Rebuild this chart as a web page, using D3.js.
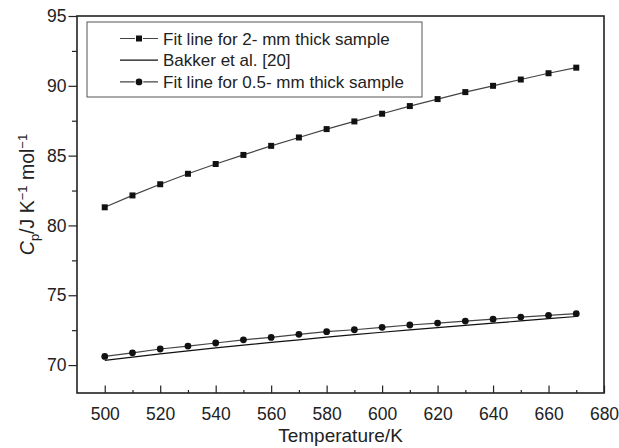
<!DOCTYPE html>
<html>
<head>
<meta charset="utf-8">
<script src="https://cdn.jsdelivr.net/npm/d3@7"></script>
<style>
    body { margin: 0; background: #fff; }
    svg { display: block; font-family: "Liberation Sans", Arial, sans-serif; }
</style>
</head>
<body>
<svg></svg>
<script>
// Data
let temps = [500, 510, 520, 530, 540, 550, 560, 570, 580, 590, 600, 610, 620, 630, 640, 650, 660, 670]
let fit2mm = [81.3, 82.15, 82.95, 83.7, 84.4, 85.05, 85.7, 86.3, 86.9, 87.45, 88.0, 88.55, 89.05, 89.55, 90.0, 90.45, 90.9, 91.3]
let bakker = [70.34, 70.57, 70.8, 71.02, 71.23, 71.43, 71.62, 71.81, 72.0, 72.18, 72.35, 72.52, 72.68, 72.84, 73.0, 73.16, 73.32, 73.48]
let fit05mm = [70.62, 70.88, 71.15, 71.36, 71.58, 71.81, 71.98, 72.2, 72.39, 72.53, 72.7, 72.87, 73.01, 73.15, 73.29, 73.44, 73.56, 73.68]
let xTicks = [500, 520, 540, 560, 580, 600, 620, 640, 660, 680]
let yTicks = [70, 75, 80, 85, 90, 95]
let legendLabels = ['Fit line for 2- mm thick sample', 'Bakker et al. [20]', 'Fit line for 0.5- mm thick sample']

let width = 619
let height = 448
let margin = { left: 77, right: 15, top: 16, bottom: 55 }

let svg = d3.select('svg')
    .attr('width', width)
    .attr('height', height)

// Scales
let scale = {
    x: d3.scaleLinear().domain([490, 680]).range([margin.left, width - margin.right]),
    y: d3.scaleLinear().domain([68, 95]).range([height - margin.bottom, margin.top])
}
let x0 = scale.x.range()[0], x1 = scale.x.range()[1]
let y0 = scale.y.range()[0], y1 = scale.y.range()[1]

// Minor ticks first (short), then major axes
svg.append('g')
    .attr('transform', `translate(0,${y0})`)
    .call(d3.axisTop(scale.x).tickValues(d3.range(510, 680, 20)).tickSize(3).tickFormat(''))
    .call(g => g.select('.domain').remove())
    .selectAll('line').attr('stroke', '#222').attr('stroke-width', 1.2)

svg.append('g')
    .attr('transform', `translate(${x0},0)`)
    .call(d3.axisLeft(scale.y).tickValues([72.5, 77.5, 82.5, 87.5, 92.5]).tickSize(5).tickFormat(''))
    .call(g => g.select('.domain').remove())
    .selectAll('line').attr('stroke', '#222').attr('stroke-width', 1.2)

// X axis: ticks point inward
let xAxis = svg.append('g')
    .attr('transform', `translate(0,${y0})`)
    .call(d3.axisBottom(scale.x).tickValues(xTicks).tickSize(0).tickPadding(0))
xAxis.select('.domain').remove()
xAxis.selectAll('.tick line').attr('y2', -7.5).attr('stroke', '#222').attr('stroke-width', 1.2)
xAxis.selectAll('.tick text')
    .attr('y', 14)
    .attr('dy', 0)
    .attr('dominant-baseline', 'hanging')
    .attr('font-size', 17.5)
    .attr('fill', '#222')

// Y axis: ticks point outward
let yAxis = svg.append('g')
    .attr('transform', `translate(${x0},0)`)
    .call(d3.axisLeft(scale.y).tickValues(yTicks).tickSize(8.5).tickPadding(2))
yAxis.select('.domain').remove()
yAxis.selectAll('.tick line').attr('stroke', '#222').attr('stroke-width', 1.2)
yAxis.selectAll('.tick text').attr('font-size', 17.5).attr('fill', '#222')

// Frame
svg.append('rect')
    .attr('x', x0)
    .attr('y', y1)
    .attr('width', x1 - x0)
    .attr('height', y0 - y1)
    .attr('fill', 'none')
    .attr('stroke', '#222')
    .attr('stroke-width', 1.6)

// Lines
let rows = temps.map((t, i) => ({ t: t, a: fit2mm[i], b: bakker[i], c: fit05mm[i] }))
let line = key => d3.line().x(d => scale.x(d.t)).y(d => scale.y(d[key]))

svg.append('path')
    .datum(rows)
    .attr('d', line('b'))
    .attr('fill', 'none')
    .attr('stroke', '#111')
    .attr('stroke-width', 1.2)

svg.append('path')
    .datum(rows)
    .attr('d', line('a'))
    .attr('fill', 'none')
    .attr('stroke', '#444')
    .attr('stroke-width', 1.2)

svg.append('path')
    .datum(rows)
    .attr('d', line('c'))
    .attr('fill', 'none')
    .attr('stroke', '#444')
    .attr('stroke-width', 1.2)

// Markers
let square = d3.symbol().type(d3.symbolSquare).size(36)
svg.selectAll('.sq')
    .data(rows)
    .enter()
    .append('path')
    .attr('class', 'sq')
    .attr('d', square)
    .attr('transform', d => `translate(${scale.x(d.t)},${scale.y(d.a)})`)
    .attr('fill', '#111')

svg.selectAll('.dot')
    .data(rows)
    .enter()
    .append('circle')
    .attr('class', 'dot')
    .attr('cx', d => scale.x(d.t))
    .attr('cy', d => scale.y(d.c))
    .attr('r', 3.4)
    .attr('fill', '#111')

// Legend
let legend = svg.append('g')
legend.append('rect')
    .attr('x', 87)
    .attr('y', 22)
    .attr('width', 335)
    .attr('height', 75)
    .attr('fill', '#fff')
    .attr('stroke', '#555')
    .attr('stroke-width', 1)

let markers = ['square', 'none', 'circle']
legendLabels.forEach((label, i) => {
    let cy = 38.5 + i * 21.7
    legend.append('line')
        .attr('x1', 120).attr('x2', 158)
        .attr('y1', cy).attr('y2', cy)
        .attr('stroke', i == 1 ? '#111' : '#444')
        .attr('stroke-width', 1.2)
    if (markers[i] == 'square') {
        legend.append('path')
            .attr('d', square)
            .attr('transform', `translate(139,${cy})`)
            .attr('fill', '#111')
            .attr('stroke', '#fff')
            .attr('stroke-width', 2)
            .attr('paint-order', 'stroke')
    } else if (markers[i] == 'circle') {
        legend.append('circle')
            .attr('cx', 139).attr('cy', cy).attr('r', 3.4)
            .attr('fill', '#111')
            .attr('stroke', '#fff')
            .attr('stroke-width', 2)
            .attr('paint-order', 'stroke')
    }
    legend.append('text')
        .attr('x', 163)
        .attr('y', cy)
        .attr('dy', '0.36em')
        .attr('font-size', 17)
        .attr('fill', '#222')
        .text(label)
})

// X label
svg.append('text')
    .attr('x', (x0 + x1) / 2)
    .attr('y', 442)
    .attr('text-anchor', 'middle')
    .attr('font-size', 19)
    .attr('fill', '#222')
    .text('Temperature/K')

// Y label
let yLabel = svg.append('text')
    .attr('transform', `translate(34,${(y0 + y1) / 2 - 10}) rotate(-90)`)
    .attr('text-anchor', 'middle')
    .attr('font-size', 19.5)
    .attr('fill', '#222')
yLabel.append('tspan').attr('font-style', 'italic').text('C')
yLabel.append('tspan').attr('font-size', 13).attr('dy', 5).text('p')
yLabel.append('tspan').attr('dy', -5).text('/J K')
yLabel.append('tspan').attr('font-size', 13).attr('dy', -7).text('\u22121')
yLabel.append('tspan').attr('dy', 7).text(' mol')
yLabel.append('tspan').attr('font-size', 13).attr('dy', -7).text('\u22121')
</script>
</body>
</html>
